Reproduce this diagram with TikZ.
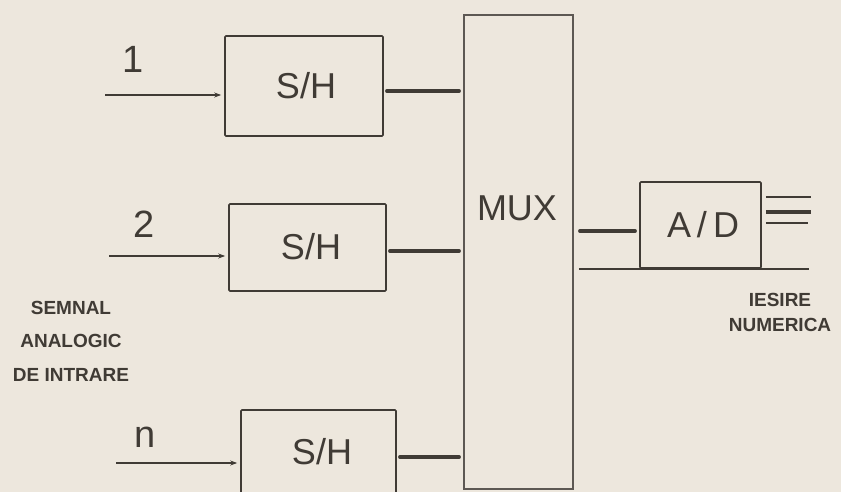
\documentclass[tikz,border=0pt]{standalone}
\usepackage{fontspec}
\setmainfont{Liberation Sans}
\usepackage{tikz}
\usetikzlibrary{calc,arrows.meta}
\definecolor{paper}{HTML}{EDE7DD}
\definecolor{ink}{HTML}{403B35}
\tikzset{
  blk/.style={draw=ink,line width=1.6pt,rounded corners=1pt,inner sep=0pt,text=ink},
  big/.style={text=ink,inner sep=0pt,font=\fontsize{36}{36}\selectfont},
  num/.style={text=ink,inner sep=0pt,font=\fontsize{38}{38}\selectfont},
  small/.style={text=ink,inner sep=0pt,align=center,font=\bfseries\fontsize{19}{33.5}\selectfont},
  sig/.style={draw=ink,line width=2.6pt,-{Stealth[length=7pt,width=5pt]}},
  outl/.style={draw=ink,line width=3.4pt,line cap=round}
}
\begin{document}
\begin{tikzpicture}[x=1pt,y=-1pt]
                      \clip (0,0) rectangle (841,492);
                      \fill[paper] (0,0) rectangle (841,492);
                      \node[blk,minimum width=158pt,minimum height=100pt](sh1)at(304,86){};
                      \node[blk,minimum width=157pt,minimum height=87pt](sh2)at(307.5,247.5){};
                      \node[blk,minimum width=155pt,minimum height=90pt](shn)at(318.5,455){};
                      \node[big](t1)at(306,86){S/H};
                      \node[big](t2)at(311,247){S/H};
                      \node[big](tn)at(322,452){S/H};
                      \node[draw=ink!85,line width=1.6pt,minimum width=109pt,minimum height=474pt,inner sep=0pt](mux)at(518.5,252){};
                      \node[big](tm)at(517,208){MUX};
                      \node[blk,minimum width=121pt,minimum height=86pt](ad)at(700.5,225){};
                      \node[big](ta)at(703,225){A\,/\,D};
                      \node[num](l1)at(133,59){1};
                      \node[num](l2)at(144,224){2};
                      \node[num](ln)at(145,437){n};
                      \coordinate (in1) at (105,95);
                      \coordinate (in2) at (109,256);
                      \coordinate (inn) at (116,463);
                      \draw[sig,shorten >=3pt] (in1) -- (in1 -| sh1.west);
                      \draw[sig,shorten >=3pt] (in2) -- (in2 -| sh2.west);
                      \draw[sig,shorten >=3pt] (inn) -- (inn -| shn.west);
                      \coordinate (o1) at ([yshift=-5pt]sh1.east);
                      \coordinate (o2) at ([yshift=-3.5pt]sh2.east);
                      \coordinate (on) at ([yshift=-2pt]shn.east);
                      \draw[outl,shorten <=3pt,shorten >=4pt] (o1) -- (o1 -| mux.west);
                      \draw[outl,shorten <=3pt,shorten >=4pt] (o2) -- (o2 -| mux.west);
                      \draw[outl,shorten <=3pt,shorten >=4pt] (on) -- (on -| mux.west);
                      \coordinate (adin) at ([yshift=-6pt]ad.west);
                      \draw[outl,shorten <=6pt,shorten >=4pt] (adin -| mux.east) -- (adin);
                      \draw[ink,line width=1.5pt] ([xshift=5pt]mux.east |- ad.south) -- ([xshift=47pt]ad.south east);
                      \foreach \dy/\w/\len in {28/2.4/49,13/3.4/49,2/2.6/46}
                        \draw[ink,line width=\w pt] ([shift={(4pt,\dy pt)}]ad.east) -- ++(\len-4,0);
                      \node[small](inp)at(71,341){SEMNAL\\ANALOGIC\\DE INTRARE};
                      \node[small,font=\bfseries\fontsize{19}{25}\selectfont](outp)at(780,312){IESIRE\\NUMERICA};
                  \end{tikzpicture}
\end{document}
